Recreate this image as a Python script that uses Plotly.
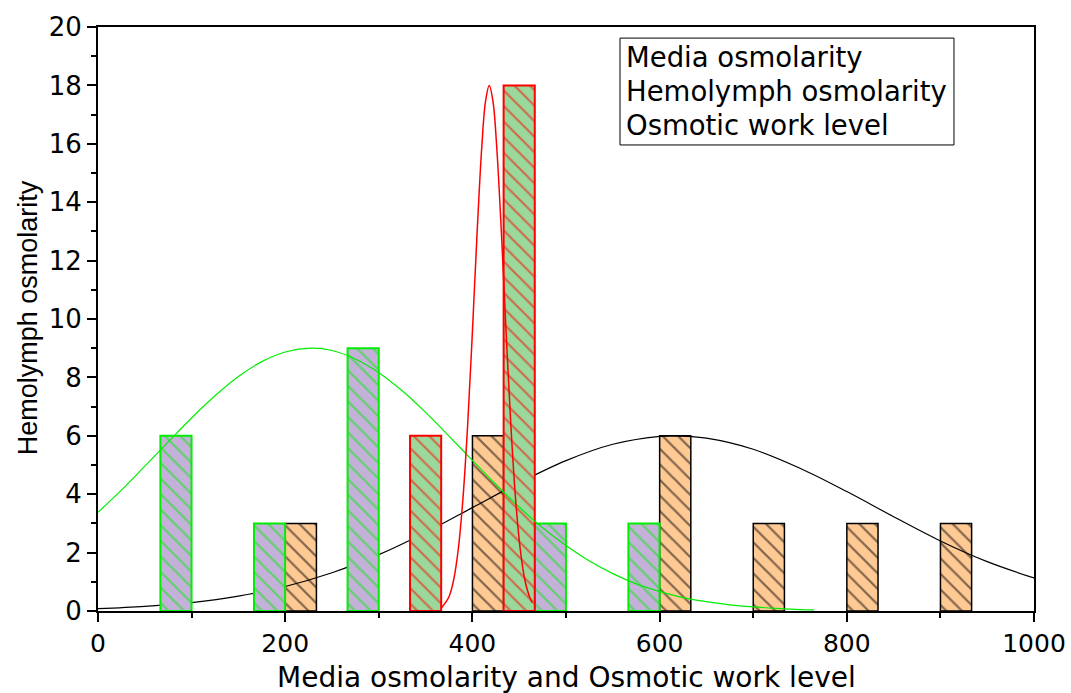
import plotly.graph_objects as go

# ---- data ----
media_x = [83.3, 183.3, 283.3, 483.3, 583.3]
media_y = [6, 3, 9, 3, 3]

hemo_x = [350, 450]
hemo_y = [6, 18]

work_x = [216.7, 416.7, 616.7, 716.7, 816.7, 916.7]
work_y = [3, 6, 6, 3, 3, 3]

bin_width = 33.3

# fitted distribution curves
green_x = [0, 25, 50, 75, 100, 125, 150, 175, 200, 228, 250, 275, 300, 325, 350, 375, 400,
           425, 450, 475, 500, 525, 550, 575, 600, 625, 650, 675, 700, 725, 750, 765]
green_y = [3.38, 4.14, 4.96, 5.79, 6.61, 7.37, 8.03, 8.54, 8.87, 9.00, 8.92, 8.63, 8.16, 7.54,
           6.80, 5.99, 5.16, 4.34, 3.56, 2.85, 2.24, 1.71, 1.28, 0.93, 0.67, 0.46, 0.32, 0.21,
           0.14, 0.09, 0.05, 0.04]

red_x = [367, 375, 380, 385, 390, 395, 400, 405, 410, 414, 418, 422, 426, 431, 436, 441,
         446, 451, 456, 461, 464]
red_y = [0.11, 0.49, 1.07, 2.14, 3.89, 6.41, 9.56, 12.94, 15.88, 17.45, 18.0, 17.45, 15.88,
         12.94, 9.56, 6.41, 3.89, 2.14, 1.07, 0.49, 0.29]

black_x = [0, 50, 100, 150, 200, 250, 300, 350, 400, 450, 500, 550, 600, 616, 650, 700, 750,
           800, 850, 900, 950, 1000]
black_y = [0.08, 0.16, 0.29, 0.51, 0.84, 1.31, 1.93, 2.69, 3.54, 4.39, 5.15, 5.71, 5.98, 6.00,
           5.92, 5.54, 4.89, 4.09, 3.23, 2.40, 1.69, 1.13]

legend_labels = ["Media osmolarity", "Hemolymph osmolarity", "Osmotic work level"]

x_title = "Media osmolarity and Osmotic work level"
y_title = "Hemolymph osmolarity"

# ---- styles ----
LAV = "#C3B1D9"
PEACH = "#FFC994"
LGREEN = "#9BD89B"
GREEN = "#00EE00"
RED = "#FF0000"
BLACK = "#000000"


def hatched(fill, line, lw):
    return dict(color=fill, line=dict(color=line, width=lw),
                pattern=dict(shape="\\", fgcolor=line, bgcolor=fill, size=11, solidity=0.2))


fig = go.Figure()

# bottom layer: osmotic work bars + black curve
fig.add_trace(go.Bar(x=work_x, y=work_y, width=bin_width, marker=hatched(PEACH, BLACK, 1.5),
                     name=legend_labels[2], showlegend=False, xaxis="x", yaxis="y"))
fig.add_trace(go.Scatter(x=black_x, y=black_y, mode="lines", line=dict(color=BLACK, width=1.2, shape="spline"),
                         showlegend=False, xaxis="x", yaxis="y"))

# upper layer: media + hemolymph bars and their curves
fig.add_trace(go.Bar(x=media_x, y=media_y, width=bin_width, marker=hatched(LAV, GREEN, 2),
                     name=legend_labels[0], showlegend=False, xaxis="x2", yaxis="y2"))
fig.add_trace(go.Bar(x=hemo_x, y=hemo_y, width=bin_width, marker=hatched(LGREEN, RED, 2),
                     name=legend_labels[1], showlegend=False, xaxis="x2", yaxis="y2"))
fig.add_trace(go.Scatter(x=green_x, y=green_y, mode="lines", line=dict(color=GREEN, width=1.2, shape="spline"),
                         showlegend=False, xaxis="x2", yaxis="y2"))
fig.add_trace(go.Scatter(x=red_x, y=red_y, mode="lines", line=dict(color=RED, width=1.5, shape="spline"),
                         showlegend=False, xaxis="x2", yaxis="y2"))

fig.update_layout(
    width=1071, height=693,
    margin=dict(l=98, r=37, t=27, b=82, autoexpand=False),
    paper_bgcolor="white", plot_bgcolor="white",
    barmode="overlay",
    showlegend=False,
    xaxis=dict(range=[0, 1000], dtick=200, tick0=0, showgrid=False, zeroline=False,
               showline=True, linecolor="black", linewidth=2, mirror=True, automargin=False,
               ticks="outside", ticklen=9, tickwidth=2, tickcolor="black",
               minor=dict(ticks="outside", ticklen=5, tickwidth=2, tickcolor="black", dtick=100),
               tickfont=dict(family="DejaVu Sans", size=25, color="black")),
    yaxis=dict(range=[0, 20], dtick=2, tick0=0, showgrid=False, zeroline=False,
               showline=True, linecolor="black", linewidth=2, mirror=True, automargin=False,
               ticks="outside", ticklen=9, tickwidth=2, tickcolor="black",
               minor=dict(ticks="outside", ticklen=5, tickwidth=2, tickcolor="black", dtick=1),
               tickfont=dict(family="DejaVu Sans", size=26, color="black")),
    xaxis2=dict(overlaying="x", matches="x", range=[0, 1000], visible=False),
    yaxis2=dict(overlaying="y", matches="y", range=[0, 20], visible=False),
)

# axis titles
fig.add_annotation(text=x_title, xref="paper", yref="paper", x=0.501, y=-0.1147,
                   xanchor="center", yanchor="middle", showarrow=False,
                   font=dict(family="DejaVu Sans", size=28, color="black"))
fig.add_annotation(text=y_title, xref="paper", yref="paper", x=-0.0748, y=0.503,
                   xanchor="center", yanchor="middle", showarrow=False, textangle=-90,
                   font=dict(family="Liberation Sans", size=27, color="black"))

# legend box (text only)
fig.add_shape(type="rect", xref="paper", yref="paper", x0=0.5577, x1=0.9145, y0=0.798, y1=0.981,
              line=dict(color="black", width=1), fillcolor="rgba(0,0,0,0)")
for i, lab in enumerate(legend_labels):
    fig.add_annotation(text=lab, xref="paper", yref="paper", x=0.562, y=[0.9486, 0.8904, 0.8330][i],
                       xanchor="left", yanchor="middle", showarrow=False,
                       font=dict(family="DejaVu Sans", size=27.5, color="black"))

fig.write_html("out.html", config={"displayModeBar": False},
               post_script="document.body.style.margin='0px';document.body.style.overflow='hidden';")
